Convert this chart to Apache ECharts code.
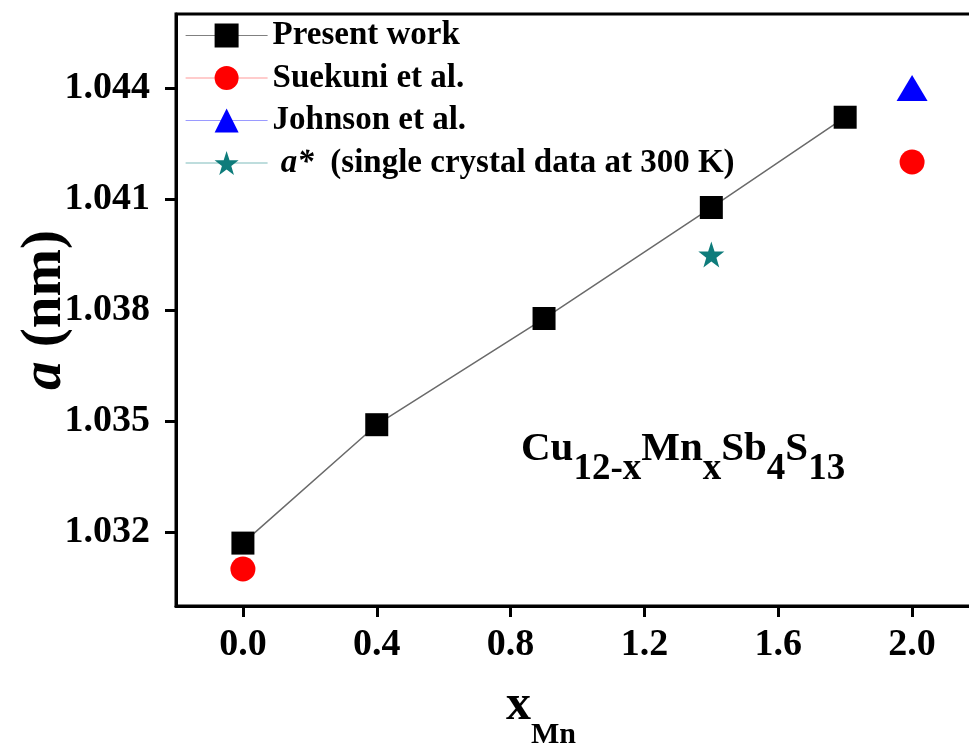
<!DOCTYPE html>
<html>
<head>
<meta charset="utf-8">
<script src="https://cdn.jsdelivr.net/npm/echarts@6/dist/echarts.min.js"></script>
<style>
  html, body { margin: 0; padding: 0; background: #fff; }
  #chart { width: 969px; height: 751px; }
</style>
</head>
<body>
<div id="chart"></div>
<script>
// Lattice parameter a (nm) of Cu12-xMnxSb4S13 versus Mn content x
const xPresent = [0, 0.4, 0.9, 1.4, 1.8];
const aPresent = [1.0317, 1.0349, 1.03777, 1.04077, 1.04321];

const xSuekuni = [0, 2.0];
const aSuekuni = [1.0310, 1.0420];

const xJohnson = [2.0];
const aJohnson = [1.0440];

const xCrystal = [1.4];
const aCrystal = [1.0395];

const xTicks = [0, 0.4, 0.8, 1.2, 1.6, 2.0];
const yTicks = [1.032, 1.035, 1.038, 1.041, 1.044];

const seriesNames = ['Present work', 'Suekuni et al.', 'Johnson et al.', 'a*'];

const FONT = "'Liberation Serif', 'Times New Roman', serif";
const STAR = 'path://M50,0 L61.8,35.1 L98.1,35.1 L68.8,56.7 L79.4,91 L50,70 L20.6,91 L31.2,56.7 L1.9,35.1 L38.2,35.1 Z';

const pairs = (xs, ys) => xs.map((x, i) => [x, ys[i]]);

const chart = echarts.init(document.getElementById('chart'), null, { renderer: 'canvas' });

chart.setOption({
  animation: false,
  backgroundColor: '#fff',
  grid: {
    left: 176, top: 14, width: 803, height: 592,
    outerBoundsMode: 'none',
    containLabel: false,
    show: true, borderColor: '#000', borderWidth: 3, backgroundColor: 'transparent'
  },
  legend: {
    orient: 'vertical',
    left: 180, top: 14,
    itemWidth: 82, itemHeight: 30, itemGap: 9.5,
    selectedMode: false,
    textStyle: {
      fontFamily: FONT, fontWeight: 'bold', fontSize: 33, color: '#000', lineHeight: 30,
      rich: {
        i: { fontFamily: FONT, fontWeight: 'bold', fontStyle: 'italic', fontSize: 33, color: '#000' },
        n: { fontFamily: FONT, fontWeight: 'bold', fontSize: 33, color: '#000' }
      }
    },
    formatter: function (name) {
      if (name === 'a*') return '{n| }{i|a*}{n|  (single crystal data at 300 K)}';
      return name;
    },
    data: [
      { name: seriesNames[0], lineStyle: { color: '#808080', width: 1.2 } },
      { name: seriesNames[1], lineStyle: { color: '#ff9a9a', width: 1.2 } },
      { name: seriesNames[2], lineStyle: { color: '#9a9aff', width: 1.2 } },
      { name: seriesNames[3], lineStyle: { color: '#7fbcbc', width: 1.2 } }
    ]
  },
  xAxis: {
    type: 'value',
    min: -0.2, max: 2.2,
    axisLine: { show: true, onZero: false, lineStyle: { color: '#000', width: 3 } },
    axisTick: { show: true, length: 11, customValues: xTicks, lineStyle: { color: '#000', width: 3 } },
    axisLabel: {
      customValues: xTicks, margin: 20,
      formatter: v => v.toFixed(1),
      fontFamily: FONT, fontWeight: 'bold', fontSize: 38, color: '#000'
    },
    splitLine: { show: false }
  },
  yAxis: {
    type: 'value',
    min: 1.030, max: 1.046,
    name: '{i|a} (nm)',
    nameLocation: 'middle',
    nameGap: 102,
    nameMoveOverlap: false,
    nameTextStyle: {
      fontFamily: FONT, fontWeight: 'bold', fontSize: 57, color: '#000',
      rich: { i: { fontFamily: FONT, fontWeight: 'bold', fontStyle: 'italic', fontSize: 57, color: '#000' } }
    },
    axisLine: { show: true, onZero: false, lineStyle: { color: '#000', width: 3 } },
    axisTick: { show: true, length: 11, customValues: yTicks, lineStyle: { color: '#000', width: 3 } },
    axisLabel: {
      customValues: yTicks, margin: 26,
      formatter: v => v.toFixed(3),
      fontFamily: FONT, fontWeight: 'bold', fontSize: 38, color: '#000'
    },
    splitLine: { show: false }
  },
  series: [
    {
      name: seriesNames[0], type: 'line',
      data: pairs(xPresent, aPresent),
      symbol: 'rect', symbolSize: 23,
      itemStyle: { color: '#000' },
      lineStyle: { color: '#6a6a6a', width: 1.5 },
      z: 3
    },
    {
      name: seriesNames[1], type: 'line',
      data: pairs(xSuekuni, aSuekuni),
      symbol: 'circle', symbolSize: 25,
      itemStyle: { color: '#ff0000' },
      lineStyle: { width: 0 },
      z: 2
    },
    {
      name: seriesNames[2], type: 'line',
      data: pairs(xJohnson, aJohnson),
      symbol: 'triangle', symbolSize: [31, 26],
      itemStyle: { color: '#0000ff' },
      lineStyle: { width: 0 },
      z: 2
    },
    {
      name: seriesNames[3], type: 'line',
      data: pairs(xCrystal, aCrystal),
      symbol: STAR, symbolSize: 26,
      itemStyle: { color: '#0e7c7b' },
      lineStyle: { width: 0 },
      z: 2
    }
  ],
  graphic: [
    {
      // compound formula with subscripts
      type: 'text', left: 521, top: 411, z: 10,
      style: {
        text: '{m|Cu}{s|12-x}{m|Mn}{s|x}{m|Sb}{s|4}{m|S}{s|13}',
        fill: '#000',
        rich: {
          m: { fontFamily: FONT, fontWeight: 'bold', fontSize: 41, lineHeight: 40, fill: '#000' },
          s: { fontFamily: FONT, fontWeight: 'bold', fontSize: 37, lineHeight: 36, padding: [40, 0, 0, 0], fill: '#000' }
        }
      }
    },
    {
      // x-axis title: x_Mn
      type: 'text', left: 506, top: 663, z: 10,
      style: {
        text: '{m|x}{s|Mn}',
        fill: '#000',
        rich: {
          m: { fontFamily: FONT, fontWeight: 'bold', fontSize: 50, lineHeight: 50, fill: '#000' },
          s: { fontFamily: FONT, fontWeight: 'bold', fontSize: 30, lineHeight: 30, padding: [57, 0, 0, 0], fill: '#000' }
        }
      }
    }
  ]
});
</script>
</body>
</html>
